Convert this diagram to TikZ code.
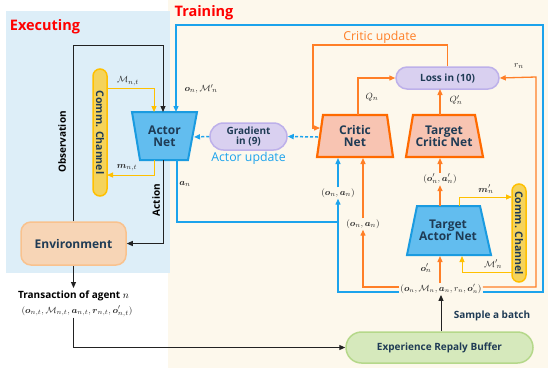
\documentclass[tikz,border=0pt]{standalone}
\usepackage{amsmath}
\usepackage{fontspec}
\setmainfont{Open Sans}
\usetikzlibrary{arrows.meta}
\definecolor{cream}{HTML}{FDF8EC}
\definecolor{execbg}{HTML}{DDEEF8}
\definecolor{navy}{HTML}{1F3B55}
\definecolor{bline}{HTML}{1CA3EC}
\definecolor{bfill}{HTML}{62BDEF}
\definecolor{bdraw}{HTML}{1A9BE0}
\definecolor{oline}{HTML}{FF7F27}
\definecolor{odraw}{HTML}{FF6A00}
\definecolor{ofill}{HTML}{F8C4B2}
\definecolor{yline}{HTML}{FFC000}
\definecolor{yfill}{HTML}{F5D35B}
\definecolor{pfill}{HTML}{D9D0F0}
\definecolor{pdraw}{HTML}{BDB0EA}
\definecolor{gfill}{HTML}{D6E9BC}
\definecolor{gdraw}{HTML}{B5D88A}
\definecolor{efill}{HTML}{F7D5B6}
\definecolor{edraw}{HTML}{F9C28E}
\definecolor{redt}{HTML}{FF0000}
\definecolor{kline}{HTML}{222222}
\begin{document}
\begin{tikzpicture}[x=1pt,y=-1pt,
  arr/.style={-{Triangle[length=6pt,width=5pt]}},
  bl/.style={draw=bline,line width=1.3pt},
  ol/.style={draw=oline,line width=1.3pt},
  yl/.style={draw=yline,line width=1pt},
  kl/.style={draw=kline,line width=1pt},
  ml/.style={font=\fontsize{9.5}{10}\selectfont,inner sep=1pt,text=black!85},
  titletext/.style={font=\bfseries\fontsize{14.5}{16}\selectfont,text=redt},
  netlbl/.style={font=\bfseries\fontsize{12}{14}\selectfont,text=navy,align=center},
  smlbl/.style={font=\bfseries\fontsize{10}{12}\selectfont,text=navy,align=center},
  bnet/.style={draw=bdraw,fill=bfill,line width=2pt,line join=miter},
  onet/.style={draw=odraw,fill=ofill,line width=2.2pt,line join=miter},
  ccbox/.style={draw=yline,fill=yfill,line width=1.5pt,rounded corners=7pt,minimum height=14pt,inner sep=0pt,rotate=-90,font=\bfseries\fontsize{10.5}{12}\selectfont,text=navy},
  pillp/.style={draw=pdraw,fill=pfill,line width=1.5pt,inner sep=0pt},
]
\useasboundingbox (0,0) rectangle (548,368);
% backgrounds
\fill[cream] (168,0) rectangle (548,368);
\fill[execbg] (6,11) rectangle (170,273);
\node[titletext] (exectitle) at (45,27) {Executing};
\node[titletext] (traintitle) at (204,13) {Training};

% shapes
\draw[bnet] (132,112) -- (197,112) -- (188,160) -- (140,160) -- cycle;
\node[netlbl] (actor) at (164.5,136) {Actor\\[-2pt]Net};
\draw[onet] (323,115) -- (387,115) -- (393,157) -- (317,157) -- cycle;
\node[netlbl] (critic) at (355,136) {Critic\\[-2pt]Net};
\draw[onet] (413,115) -- (475,115) -- (483,157) -- (406,157) -- cycle;
\node[netlbl] (tcritic) at (444,136) {Target\\[-2pt]Critic Net};
\draw[bnet] (417,206) -- (480,206) -- (491,255) -- (407,255) -- cycle;
\node[netlbl] (tactor) at (448,230.5) {Target\\[-2pt]Actor Net};

\node[draw=edraw,fill=efill,line width=1.5pt,rounded corners=10pt,minimum width=105pt,minimum height=43pt,inner sep=0pt,netlbl] (env) at (73.5,243.5) {Environment};
\node[ccbox,minimum width=127pt] (cc1) at (100,132.5) {Comm. Channel};
\node[ccbox,minimum width=98pt] (cc2) at (519,233) {Comm. Channel};
\node[pillp,rounded corners=13.5pt,minimum width=77pt,minimum height=27pt,smlbl] (grad) at (248.5,136.5) {Gradient\\[-2pt]in (9)};
\node[pillp,rounded corners=11pt,minimum width=103pt,minimum height=22pt,smlbl] (loss) at (447.5,78) {Loss in (10)};
\node[draw=gdraw,fill=gfill,line width=1.5pt,rounded corners=15.5pt,minimum width=187pt,minimum height=31pt,inner sep=0pt,smlbl] (buf) at (439.5,347.5) {Experience Repaly Buffer};

% port coordinates
\coordinate (actTopK) at (163,112);
\coordinate (actTopY) at (154,112);
\coordinate (actTopB) at (176,112);
\coordinate (actBotY) at (154,160);
\coordinate (actBotK) at (163,160);
\coordinate (actBotB) at (177,160);
\coordinate (actRight) at (194,137);
\coordinate (crTop) at (358,115);
\coordinate (crLeft) at (320,128);
\coordinate (crLeftG) at (318,137);
\coordinate (crBotB) at (338,158);
\coordinate (crBotO) at (363,158);
\coordinate (tcTop) at (440,115);
\coordinate (tcBot) at (440,158);
\coordinate (taTopO) at (440,206);
\coordinate (taTopY) at (459,206);
\coordinate (taBotO) at (440,256);
\coordinate (taBotY) at (462,256);
\coordinate (cc1M) at (107,88);
\coordinate (cc1m) at (107,175);
\coordinate (cc2m) at (512,197);
\coordinate (cc2M) at (512,272);
\coordinate (lossQ) at (440,89);

% text labels
\node[font=\bfseries\fontsize{10}{12}\selectfont,text=black,inner sep=0pt,rotate=90] (obs) at (62,142) {Observation};
\node[font=\bfseries\fontsize{10}{12}\selectfont,text=black,inner sep=0pt,rotate=90] (act) at (156,200) {Action};
\node[font=\fontsize{12.3}{13}\selectfont,text=oline,inner sep=0pt] (cupd) at (380,37) {Critic update};
\node[font=\fontsize{12.3}{13}\selectfont,text=bline,inner sep=0pt] (aupd) at (248.5,158) {Actor update};
\node[font=\bfseries\fontsize{10}{12}\selectfont,text=navy,inner sep=0pt] (samp) at (492,316) {Sample a batch};
\node[font=\bfseries\fontsize{10}{12}\selectfont,text=black,inner sep=0pt] (trans) at (73.5,296) {Transaction of agent $n$};
\node[ml] (ttuple) at (77,311) {$(\boldsymbol{o}_{n,t},\mathcal{M}_{n,t},\boldsymbol{a}_{n,t},\boldsymbol{r}_{n,t},\boldsymbol{o}'_{n,t})$};
\node[ml,font=\fontsize{9}{10}\selectfont] (batch) at (441,289) {$(\boldsymbol{o}_{n},\mathcal{M}_{n},\boldsymbol{a}_{n},r_{n},\boldsymbol{o}'_{n})$};
\node[ml] (oa1) at (338,193) {$(\boldsymbol{o}_{n},\boldsymbol{a}_{n})$};
\node[ml] (oa2) at (363,224) {$(\boldsymbol{o}_{n},\boldsymbol{a}_{n})$};
\node[ml] (oa3) at (440,179) {$(\boldsymbol{o}'_{n},\boldsymbol{a}'_{n})$};
\node[ml] (lMt) at (128,81) {$\mathcal{M}_{n,t}$};
\node[ml] (lmt) at (127,168) {$\boldsymbol{m}_{n,t}$};
\node[ml] (loM) at (201,89) {$\boldsymbol{o}_n,\mathcal{M}'{}_{\!n}$};
\node[ml] (lan) at (185,184) {$\boldsymbol{a}_n$};
\node[ml] (lQn) at (372,97) {$Q_n$};
\node[ml] (lQpn) at (456,100) {$Q'_n$};
\node[ml] (lrn) at (519,66) {$r_n$};
\node[ml] (lmp) at (486,189) {$\boldsymbol{m}'_n$};
\node[ml] (lMp) at (493,264) {$\mathcal{M}'{}_{\!n}$};
\node[ml] (lop) at (426,268) {$\boldsymbol{o}'_n$};

% executing connectors
\draw[kl,arr] (env.north) |- (163,45) -- (actTopK);
\draw[kl,arr] (actBotK) |- (env.east);
\draw[yl,arr] (cc1M) -| (actTopY);
\draw[yl,arr] (actBotY) |- (cc1m);
\draw[kl,arr] (env.south) -- (73.5,288);
\draw[kl,arr] (ttuple.south -| trans) |- (buf.west);
\draw[kl,arr] (buf.north -| batch) -- (batch.south);

% blue
\draw[bl,arr] (batch.east |- 0,292) -| (543,25) -| (actTopB);
\draw[bl,arr] (batch.west |- 0,292) -| (oa1.south);
\draw[bl,arr] (oa1.north) -- (crBotB);
\draw[bl] (actBotB) |- (338,222);
\draw[bl,dashed,dash pattern=on 3pt off 2pt,line width=1.5pt,arr] (crLeftG) -- (grad.east);
\draw[bl,dashed,dash pattern=on 3pt off 2pt,line width=1.5pt,arr] (grad.west) -- (actRight);

% orange
\draw[ol,arr] (batch.west |- 0,287) -| (oa2.south);
\draw[ol,arr] (oa2.north) -- (crBotO);
\draw[ol,arr] (batch.north -| taBotO) -- (taBotO);
\draw[ol,arr] (taTopO) -- (oa3.south -| taTopO);
\draw[ol,arr] (oa3.north -| tcBot) -- (tcBot);
\draw[ol,arr] (batch.east |- 0,287) -| (536,77) -- (loss.east);
\draw[ol,arr] (crTop) |- (loss.west);
\draw[ol,arr] (tcTop) -- (lossQ);
\draw[ol,arr] (loss.north) |- (313,45) |- (crLeft);

% yellow target
\draw[yl,arr] (taTopY) |- (cc2m);
\draw[yl,arr] (cc2M) -| (taBotY);
\end{tikzpicture}
\end{document}
